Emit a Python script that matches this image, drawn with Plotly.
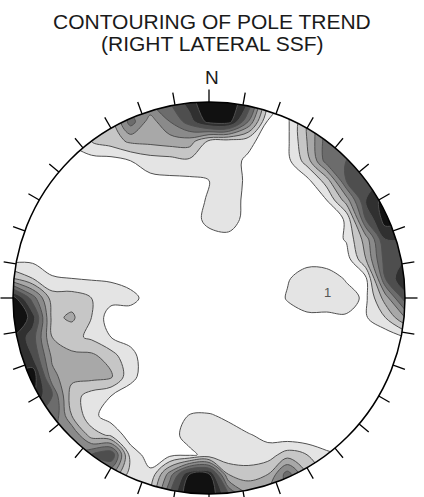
import numpy as np
import plotly.graph_objects as go

# Equal-area net coordinates of the density grid (unit circle = primitive)
grid_x = [-1.0, -0.9, -0.8, -0.7, -0.6, -0.5, -0.4, -0.3, -0.2, -0.1, 0.0,
          0.1, 0.2, 0.3, 0.4, 0.5, 0.6, 0.7, 0.8, 0.9, 1.0]
grid_y = [1.0, 0.9, 0.8, 0.7, 0.6, 0.5, 0.4, 0.3, 0.2, 0.1, 0.0,
          -0.1, -0.2, -0.3, -0.4, -0.5, -0.6, -0.7, -0.8, -0.9, -1.0]

# Pole-trend density (rows north -> south, columns west -> east)
pole_density = [
    [0, 0, 0, 0, 0.5, 1.5, 4, 5, 6, 7.5, 9, 9, 7, 2, 1, 2, 4, 5, 5, 4, 3],
    [0, 0, 0, 0.3, 1.2, 2.5, 5.5, 3.5, 5, 6.5, 8.4, 8.5, 5, 0.9, 0.8, 3, 5, 6, 6, 5, 4],
    [0, 0, 0.3, 1.2, 2.0, 2.5, 3.2, 3.3, 3.5, 3.5, 1.8, 1.5, 1.3, 0.5, 0.8, 3, 5.5, 6, 6, 5, 4],
    [0, 0, 0, 0.3, 0.6, 0.6, 1.0, 1.5, 1.6, 1.8, 2.0, 1.4, 0.8, 0.3, 0.7, 2.5, 5.5, 6, 6.5, 6, 5],
    [0, 0, 0.2, 0.2, 0.3, 0.3, 0.5, 0.7, 0.8, 0.8, 1.0, 1.5, 0.8, 0.2, 0.3, 0.7, 2.5, 6, 6.5, 7, 6],
    [0, 0, 0.2, 0.2, 0.2, 0.2, 0.3, 0.4, 0.5, 0.6, 1.1, 1.5, 0.7, 0.2, 0.2, 0.3, 1.0, 3.5, 7, 8.5, 7],
    [0, 0.2, 0.2, 0.2, 0.2, 0.2, 0.2, 0.2, 0.2, 0.5, 1.3, 1.5, 0.6, 0.2, 0.2, 0.2, 0.4, 1.1, 6, 8.5, 8],
    [0.3, 0.3, 0.2, 0.2, 0.2, 0.2, 0.2, 0.2, 0.2, 0.2, 0.6, 0.7, 0.2, 0.2, 0.3, 0.3, 0.4, 1.1, 3.5, 7, 7],
    [0.5, 0.7, 0.4, 0.2, 0.2, 0.2, 0.2, 0.2, 0.2, 0.2, 0.2, 0.2, 0.2, 0.2, 0.5, 0.6, 0.5, 0.5, 3, 6.5, 7],
    [3, 2.0, 1.1, 1.0, 0.9, 0.9, 0.6, 0.3, 0.2, 0.2, 0.2, 0.2, 0.2, 0.3, 0.9, 1.5, 1.5, 0.9, 0.8, 6, 8],
    [8.5, 5.5, 2.5, 2.5, 2.0, 1.4, 1.3, 0.6, 0.2, 0.2, 0.2, 0.2, 0.2, 0.2, 1.1, 1.5, 1.5, 1.4, 0.8, 3.5, 6.5],
    [9.5, 7.5, 2.7, 3.2, 2.0, 0.4, 0.5, 0.3, 0.2, 0.2, 0.2, 0.2, 0.2, 0.2, 0.5, 0.8, 0.8, 0.9, 0.9, 2.0, 4],
    [8, 6.5, 3.0, 2.3, 1.8, 1.0, 0.8, 0.3, 0.2, 0.2, 0.2, 0.2, 0.2, 0.2, 0.2, 0.2, 0.2, 0.2, 0.2, 0.3, 1],
    [8, 7, 3.8, 3.3, 3.3, 2.5, 1.2, 0.6, 0.2, 0.2, 0.2, 0.2, 0.2, 0.2, 0.2, 0.2, 0.2, 0.2, 0.2, 0.2, 0.2],
    [8, 8.8, 4.3, 3.3, 3.4, 3.2, 1.3, 0.4, 0.2, 0.2, 0.2, 0.2, 0.2, 0.2, 0.2, 0.2, 0.2, 0.2, 0.2, 0.2, 0],
    [5, 8, 6, 2.5, 1.5, 1.0, 0.5, 0.2, 0.2, 0.2, 0.2, 0.2, 0.2, 0.2, 0.2, 0.2, 0.2, 0.2, 0.2, 0, 0],
    [0, 6, 6, 3.0, 1.3, 0.5, 0.3, 0.3, 0.3, 1.05, 1.1, 0.8, 0.2, 0.2, 0.2, 0.2, 0.2, 0.2, 0.2, 0, 0],
    [0, 0, 5, 5, 2.5, 1.8, 0.5, 0.4, 0.7, 1.3, 1.5, 1.4, 1.1, 0.7, 0.3, 0.2, 0.3, 0.8, 1, 0, 0],
    [0, 0, 0, 5, 6, 7, 1.5, 0.6, 0.7, 0.8, 1.3, 1.2, 1.4, 1.5, 2.5, 2.0, 1.2, 0.8, 0, 0, 0],
    [0, 0, 0, 0, 3, 4, 1.5, 1.2, 4.5, 8, 8.2, 3, 2.5, 3, 5.5, 3, 1.5, 0, 0, 0, 0],
    [0, 0, 0, 0, 0, 0, 1, 2, 6, 9, 9, 6, 4, 4, 5, 3, 0, 0, 0, 0, 0],
]

# Contour intervals and grey fill for each band (below first level ... above last)
contour_start, contour_end, contour_step = 1, 8, 1
band_colors = ['#ffffff', '#e4e4e4', '#c6c6c6', '#a8a8a8', '#8a8a8a',
               '#6c6c6c', '#4e4e4e', '#303030', '#111111']

# Azimuth ticks around the primitive
tick_azimuths = [0, 10, 20, 30, 40, 50, 60, 70, 80, 90, 100, 110, 120, 130, 140, 150, 160, 170,
                 180, 190, 200, 210, 220, 230, 240, 250, 260, 270, 280, 290, 300, 310, 320, 330, 340, 350]

title_lines = ['CONTOURING OF POLE TREND', '(RIGHT LATERAL SSF)']
north_label = 'N'
contour_label = {'text': '1', 'x': 0.605, 'y': 0.03}

W, H = 424, 497
R_PX = 196.0          # primitive radius in pixels
CX, CY = 209.0, 298.0  # primitive centre in pixels

nb = len(band_colors)
colorscale = [[k / (nb - 1), c] for k, c in enumerate(band_colors)]

fig = go.Figure(go.Contour(
    x=grid_x, y=grid_y, z=pole_density,
    autocontour=False,
    contours=dict(start=contour_start, end=contour_end, size=contour_step,
                  coloring='fill', showlines=True),
    colorscale=colorscale, showscale=False,
    line=dict(color='#505050', width=1, smoothing=1.0),
    hoverinfo='skip',
))

# white mask outside the primitive circle
theta = np.linspace(0, 2 * np.pi, 361)
circ = " ".join(f"L{np.cos(t):.5f},{np.sin(t):.5f}" for t in theta[1:])
mask_path = f"M-1.3,-1.3 L1.3,-1.3 L1.3,1.3 L-1.3,1.3 Z M1,0 {circ} Z"
fig.add_shape(type='path', path=mask_path, xref='x', yref='y',
              fillcolor='white', fillrule='evenodd', line=dict(width=0), layer='above')

# primitive circle
fig.add_shape(type='circle', x0=-1, y0=-1, x1=1, y1=1, xref='x', yref='y',
              line=dict(color='black', width=1.5), layer='above')

# azimuth ticks
tick_len = 12.5 / R_PX
for az in tick_azimuths:
    a = np.radians(az)
    fig.add_shape(type='line', xref='x', yref='y',
                  x0=np.sin(a), y0=np.cos(a),
                  x1=(1 + tick_len) * np.sin(a), y1=(1 + tick_len) * np.cos(a),
                  line=dict(color='black', width=1.3), layer='above')

font = 'Liberation Sans, Arial, sans-serif'
fig.add_annotation(text=title_lines[0], xref='paper', yref='paper', x=212 / W, y=1 - 22 / H,
                   xanchor='center', yanchor='middle', showarrow=False,
                   font=dict(family=font, size=21, color='#1a1a1a'))
fig.add_annotation(text=title_lines[1], xref='paper', yref='paper', x=212 / W, y=1 - 43 / H,
                   xanchor='center', yanchor='middle', showarrow=False,
                   font=dict(family=font, size=21, color='#1a1a1a'))
fig.add_annotation(text=north_label, xref='paper', yref='paper', x=212.5 / W, y=1 - 77 / H,
                   xanchor='center', yanchor='middle', showarrow=False,
                   font=dict(family=font, size=19, color='#1a1a1a'))
fig.add_annotation(text=contour_label['text'], xref='x', yref='y',
                   x=contour_label['x'], y=contour_label['y'],
                   xanchor='center', yanchor='middle', showarrow=False,
                   font=dict(family=font, size=13, color='#555555'))

fig.update_xaxes(range=[-CX / R_PX, (W - CX) / R_PX], visible=False, domain=[0, 1])
fig.update_yaxes(range=[-(H - CY) / R_PX, CY / R_PX], visible=False, domain=[0, 1])
fig.update_layout(width=W, height=H, margin=dict(l=0, r=0, t=0, b=0),
                  plot_bgcolor='white', paper_bgcolor='white', showlegend=False)

fig.write_html("out.html")
